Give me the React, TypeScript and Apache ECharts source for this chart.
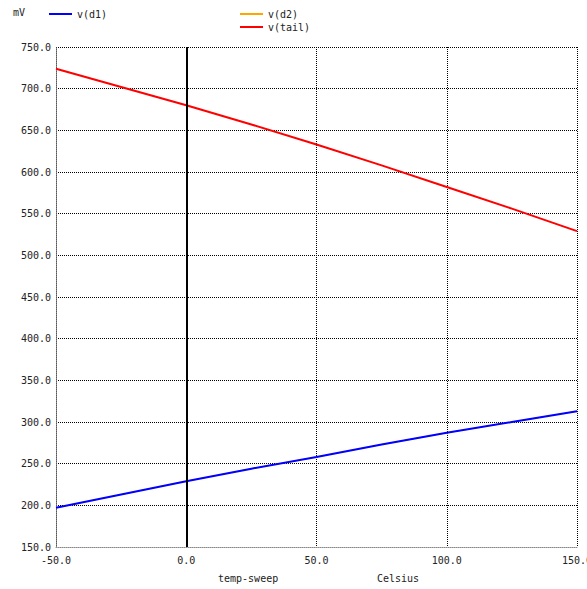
import React, { useEffect, useRef } from "react";
import * as echarts from "echarts";

const temps = [-50, -25, 0, 25, 50, 75, 100, 125, 150];
const vd1 = [197, 213, 229, 244, 258, 273, 287, 300, 313];
const vd2 = [197, 213, 229, 244, 258, 273, 287, 300, 313];
const vtail = [724, 702, 680, 657, 633, 608, 582, 556, 529];
const yTicks = { min: 150, max: 750, interval: 50 };
const xTicks = { min: -50, max: 150, interval: 50 };

const FONT = "DejaVu Sans Mono";

export default function App() {
  const ref = useRef<HTMLDivElement>(null);
  useEffect(() => {
    const chart = echarts.init(ref.current!, null, { renderer: "svg" });
    const pairs = (ys: number[]) => temps.map((t, i) => [t, ys[i]]);
    chart.setOption({
      animation: false,
      backgroundColor: "#ffffff",
      textStyle: { fontFamily: FONT },
      grid: { left: 56, right: 10, top: 47, bottom: 42, outerBoundsMode: "none", containLabel: false },
      legend: [
        {
          data: ["v(d1)"],
          left: 44,
          top: 4,
          icon: "rect",
          itemWidth: 23,
          itemHeight: 2,
          itemGap: 2,
          textStyle: { fontFamily: FONT, fontSize: 10, color: "#222" },
          selectedMode: false,
        },
        {
          data: ["v(d2)", "v(tail)"],
          orient: "vertical",
          left: 235,
          top: 4,
          itemGap: 3,
          icon: "rect",
          itemWidth: 23,
          itemHeight: 2,
          textStyle: { fontFamily: FONT, fontSize: 10, color: "#222" },
          selectedMode: false,
        },
      ],
      graphic: [
        { type: "text", left: 13, top: 7, style: { text: "mV", font: `10px ${FONT}`, fill: "#222" } },
        { type: "text", left: 218, top: 573, style: { text: "temp-sweep", font: `10px ${FONT}`, fill: "#222" } },
        { type: "text", left: 377, top: 573, style: { text: "Celsius", font: `10px ${FONT}`, fill: "#222" } },
      ],
      xAxis: {
        type: "value",
        min: xTicks.min,
        max: xTicks.max,
        interval: xTicks.interval,
        axisLine: { show: true, onZero: false, lineStyle: { color: "#888", type: "dotted" } },
        axisTick: { show: false },
        splitLine: { show: true, lineStyle: { color: "#000", type: "dotted", width: 1 } },
        axisLabel: {
          formatter: (v: number) => v.toFixed(1),
          fontFamily: FONT,
          fontSize: 10,
          color: "#222",
          margin: 8,
          showMaxLabel: true,
        },
      },
      yAxis: {
        type: "value",
        min: yTicks.min,
        max: yTicks.max,
        interval: yTicks.interval,
        axisLine: { show: true, onZero: false, lineStyle: { color: "#888", type: "dotted" } },
        axisTick: { show: false },
        splitLine: { show: true, lineStyle: { color: "#000", type: "dotted", width: 1 } },
        axisLabel: {
          formatter: (v: number) => v.toFixed(1),
          fontFamily: FONT,
          fontSize: 10,
          color: "#222",
          margin: 5,
        },
      },
      series: [
        {
          name: "v(d2)",
          type: "line",
          data: pairs(vd2),
          showSymbol: false,
          color: "#ffa500",
          lineStyle: { width: 1, color: "#ffa500" },
          z: 2,
        },
        {
          name: "v(d1)",
          type: "line",
          data: pairs(vd1),
          showSymbol: false,
          color: "#0000ff",
          lineStyle: { width: 2, color: "#0000ff" },
          z: 3,
          markLine: {
            silent: true,
            symbol: "none",
            label: { show: false },
            lineStyle: { color: "#000", type: "solid", width: 2 },
            data: [{ xAxis: 0 }],
          },
        },
        {
          name: "v(tail)",
          type: "line",
          data: pairs(vtail),
          showSymbol: false,
          color: "#ff0000",
          lineStyle: { width: 2, color: "#ff0000" },
          z: 3,
        },
      ],
    });
    return () => chart.dispose();
  }, []);
  return (
    <div
      ref={ref}
      style={{ position: "fixed", left: 0, top: 0, width: 587, height: 589 }}
    />
  );
}
